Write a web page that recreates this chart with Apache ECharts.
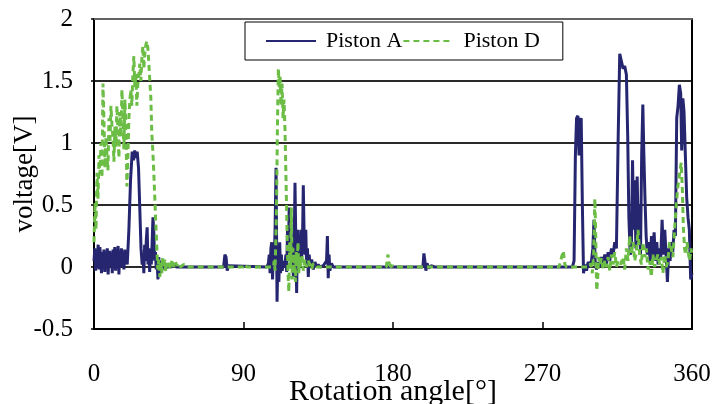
<!DOCTYPE html>
<html><head><meta charset="utf-8">
<script src="https://cdn.jsdelivr.net/npm/echarts@6/dist/echarts.min.js"></script>
<style>html,body{margin:0;padding:0;background:#fff}#c{width:713px;height:404px}</style>
</head><body><div id="c"></div>
<script>
const xTicks = [0, 90, 180, 270, 360];
const yTicks = [-0.5, 0, 0.5, 1, 1.5, 2];

const pistonA_angle = [0,0.5,1,1.5,2,2.5,3,3.5,4,4.5,5,5.5,6,6.5,7,7.5,8,8.5,9,9.5,10,10.5,11,11.5,12,12.5,13,13.5,14,14.5,15,15.5,16,16.5,17,17.5,18,18.5,19,19.5,20,21,22,23,23.8,24.5,25.3,26,26.8,27.5,28.3,29,29.5,30,30.5,31,31.5,32,32.5,33,33.5,34,34.5,35,35.5,36,36.5,37,37.5,38,38.5,39,39.5,40,40.5,41,42,43,44,45,46,48,50,78,78.8,79.5,80.2,81,82,104,105,105.5,106,106.5,107,107.5,108,108.5,109,109.6,110.2,110.8,111.3,111.8,112.3,112.8,113.3,114,115,115.5,116,116.5,117,117.5,118,118.5,119,119.5,120,120.5,121,121.5,122,122.5,123,123.5,124,124.5,125,125.5,126,126.5,127,127.5,128,128.5,129,129.5,130,131,132,133,134,135,136,138,139,140,140.5,141,141.5,142,143,144,150,198,198.6,199.2,199.8,200.5,201.5,203,205,288,289,289.8,290.5,291.3,292,292.6,293.3,294,294.7,295.5,296.5,297.5,298.5,299.5,300.3,301,301.7,302.5,303.5,304.5,305.5,306.5,307.5,308.5,309.5,310.5,311.5,312.5,313.5,314.5,315.5,316.5,317.5,318.5,319.5,320.5,321.3,322,322.8,323.5,324.2,324.9,325.5,326.2,327,327.7,328.3,329,329.7,330.4,331,331.7,332.4,333.1,334,334.8,335.6,336.4,337.2,338,338.8,339.6,340.4,341.2,342,342.8,343.6,344.4,345.2,346,346.8,347.6,348.4,349.2,350,350.8,351.6,352.4,353.2,353.8,354.5,355.2,356,356.8,357.6,358.4,359.2,360];
const pistonA_volt = [0.05,0.15,-0.03,0.12,0.02,0.18,-0.02,0.16,0.08,-0.05,0.12,0.03,0.14,-0.04,0.1,0.02,0.15,-0.06,0.09,0.13,0.0,0.11,-0.05,0.14,0.04,0.16,-0.03,0.1,0.05,0.17,-0.06,0.12,0.02,0.15,0.0,0.12,-0.02,0.14,0.03,0.1,0.02,0.3,0.7,0.93,0.86,0.94,0.88,0.93,0.8,0.5,0.15,0.02,0.1,-0.05,0.18,0.05,0.22,0.32,0.02,0.15,-0.04,0.12,0.02,0.2,0.4,0.28,0.05,0.12,-0.02,0.05,-0.1,0.08,-0.06,0.04,-0.04,0.05,-0.02,0.03,-0.01,0.02,0,0.01,0,0,0.1,0.08,-0.03,0.01,0,0,0.03,0.1,-0.05,0.15,0.2,-0.1,0.18,0.05,0.3,0.8,-0.28,0.15,-0.12,0.2,-0.05,0.1,-0.03,0.05,0.0,0.1,-0.04,0.3,0.05,0.48,0.1,0.35,0.02,0.25,-0.08,0.15,0.68,0.2,-0.21,0.3,0.1,0.25,0.05,0.3,0.08,0.2,0.66,0.25,0.1,0.3,0.0,0.15,-0.08,0.1,0.03,0.06,-0.02,0.04,0.0,0.02,0.0,0.01,0.0,0.05,0.25,-0.09,0.1,-0.03,0.03,0,0,0,0.11,0.05,-0.03,0.03,-0.01,0.01,0,0,0.05,0.9,1.2,1.22,0.9,1.18,1.2,0.5,-0.05,0.02,-0.03,0.04,0.02,0.05,0.15,0.38,0.05,-0.02,0.04,0.0,0.08,0.03,0.1,0.02,0.12,0.05,0.15,0.1,0.2,0.15,1.0,1.72,1.73,1.6,1.62,1.55,1.05,0.4,0.1,0.15,0.86,0.3,0.7,0.15,0.73,0.2,0.5,0.1,0.9,1.31,0.92,0.55,0.25,0.1,0.2,0.05,0.25,0.08,0.28,0.05,0.2,0.02,0.15,0.08,0.38,0.1,0.3,0.1,-0.12,0.15,0.05,0.2,0.12,0.3,0.25,1.2,1.3,1.47,1.4,0.94,1.36,1.25,0.9,0.56,0.4,0.3,-0.1,-0.05];

const pistonD_angle = [0,0.6,1.2,1.8,2.4,3,3.6,4.2,4.8,5.4,6,6.6,7.2,7.8,8.4,9,9.6,10.2,10.8,11.4,12,12.6,13.2,13.8,14.4,15,15.6,16.2,16.8,17.4,18,18.6,19.2,19.8,20.4,21,21.6,22.2,22.8,23.4,24,24.6,25.2,25.8,26.4,27,27.6,28.2,28.8,29.4,30,30.6,31.2,31.8,32.4,33,33.6,34.2,34.8,35.4,36,36.6,37.2,37.8,38.4,39,39.6,40.2,40.8,41.4,42,42.6,43.2,43.8,44.4,45,46,47,48,49,50,51,52,54,56,90,91,92,108,108.5,109,109.8,110.5,111,111.5,112,112.6,113.2,113.8,114.4,115,115.6,116.2,116.8,117.3,117.8,118.3,118.8,119.3,119.8,120.3,120.8,121.3,121.8,122.3,122.8,123.3,123.8,124.5,125.2,126,127,128,129,130,131,132,134,176,176.5,177,177.5,178,178.5,180,182,280,281.5,282.5,283.5,284.5,298,299,300,300.8,301.5,302,302.6,303.2,303.8,304.5,305.5,306.5,307.5,308.5,309.5,310.5,311.5,312.5,313.5,314.5,315.5,317,318.5,319.5,320.5,321.5,322.5,323.5,324.5,325.5,326.5,327.5,328.5,329.5,330.5,331.5,332.5,333.5,334.5,335.5,336.5,337.5,338.5,339.5,340.5,341.5,342.5,343.5,344.5,345.5,346.5,347.5,348.5,349.5,350.5,351.5,352.5,353.5,354.2,354.8,355.5,356.2,357,357.8,358.6,359.4,360];
const pistonD_volt = [0.2,0.52,0.3,0.76,0.55,0.9,0.75,1.0,0.72,1.48,1.18,0.8,1.05,0.9,0.78,1.2,1.0,1.3,1.15,1.05,0.85,1.13,0.97,1.3,1.1,0.88,1.25,1.05,1.43,1.21,0.95,1.35,1.15,0.65,0.89,1.2,1.35,1.43,1.3,1.55,1.7,1.45,1.56,1.3,1.48,1.55,1.64,1.5,1.68,1.78,1.6,1.72,1.79,1.82,1.77,1.65,1.5,1.37,1.08,0.94,0.76,0.56,0.35,0.16,-0.02,0.06,-0.08,0.05,-0.05,0.08,0.0,0.06,-0.04,0.05,0.0,0.04,-0.02,0.06,0.0,0.04,0.01,0.03,0.0,0.02,0,0,0.02,0,0,0.05,-0.03,0.4,1.2,1.6,1.45,1.55,1.3,1.48,1.2,1.35,1.1,0.7,0.3,-0.05,-0.2,0.2,0.0,0.48,-0.1,0.15,-0.05,0.1,-0.12,0.12,0.02,0.2,-0.05,0.08,0.0,0.1,-0.03,0.06,0.0,0.05,0.02,-0.02,0.03,0,0,0.06,0.1,0.02,0.05,0,0.01,0,0,0.08,0.13,0.02,0.0,0,0.03,-0.05,0.1,0.55,0.3,-0.19,-0.1,0.08,0.02,0.07,-0.02,0.05,0.0,0.08,-0.03,0.1,0.02,0.12,0.0,0.05,0.02,0.08,-0.02,0.15,0.05,0.25,0.1,0.2,0.05,0.12,0.3,0.1,0.02,0.2,0.08,0.15,-0.02,0.05,-0.08,0.1,0.0,0.06,0.1,0.02,0.08,-0.05,0.1,0.0,0.05,0.2,0.15,0.08,0.3,0.5,0.65,0.75,0.84,0.62,0.32,0.15,0.1,0.2,0.11,0.05,0.15,0.1];

const seriesNames = ['Piston A', 'Piston D'];
const colors = ['#25266f', '#6cbd45'];

function pairs(a, v) { return a.map((x, i) => [x, v[i]]); }

const chart = echarts.init(document.getElementById('c'), null, {renderer: 'canvas'});
const serif = '"Liberation Serif", "DejaVu Serif", serif';
chart.setOption({
  animation: false,
  backgroundColor: '#fff',
  grid: {left: 94, right: 21, top: 19, bottom: 75, containLabel: false, outerBoundsMode: 'none'},
  legend: {
    left: 245, top: 22,
    padding: [8, 23, 8, 20],
    borderColor: '#000', borderWidth: 1, backgroundColor: '#fff',
    itemWidth: 50, itemHeight: 14, itemGap: 0,
    itemStyle: {opacity: 0},
    textStyle: {fontFamily: serif, fontSize: 22, color: '#000', padding: [0, 0, 0, 5]},
    data: seriesNames
  },
  xAxis: [{
    type: 'value', min: 0, max: 360, interval: 90,
    name: 'Rotation angle[°]', nameLocation: 'middle', nameGap: 48, nameMoveOverlap: false,
    nameTextStyle: {fontFamily: serif, fontSize: 30, color: '#000'},
    axisLine: {show: true, onZero: false, lineStyle: {color: '#000', width: 2}},
    axisTick: {show: true, inside: true, length: 7, lineStyle: {color: '#000', width: 1.5}},
    axisLabel: {fontFamily: serif, fontSize: 25, color: '#000', margin: 33,
      formatter: v => xTicks.includes(v) ? String(v) : ''},
    splitLine: {show: false}
  }, {
    type: 'value', position: 'top', min: 0, max: 360, interval: 90,
    axisLine: {show: true, onZero: false, lineStyle: {color: '#777', width: 1.5}},
    axisTick: {show: false}, axisLabel: {show: false}, splitLine: {show: false}
  }],
  yAxis: [{
    type: 'value', min: -0.5, max: 2, interval: 0.5,
    name: 'voltage[V]', nameLocation: 'middle', nameGap: 56, nameRotate: 90, nameMoveOverlap: false,
    nameTextStyle: {fontFamily: serif, fontSize: 27, color: '#000'},
    axisLine: {show: true, onZero: false, lineStyle: {color: '#000', width: 2}},
    axisTick: {show: true, length: 3, lineStyle: {color: '#000', width: 1.5}},
    axisLabel: {fontFamily: serif, fontSize: 25, color: '#000', margin: 21,
      formatter: v => yTicks.includes(v) ? String(v) : ''},
    splitLine: {show: true, lineStyle: {color: '#2a2a2a', width: 2}}
  }, {
    type: 'value', position: 'right', min: -0.5, max: 2, interval: 0.5,
    axisLine: {show: true, onZero: false, lineStyle: {color: '#000', width: 2}},
    axisTick: {show: false}, axisLabel: {show: false}, splitLine: {show: false}
  }],
  series: [{
    name: seriesNames[0], type: 'line', data: pairs(pistonA_angle, pistonA_volt),
    symbol: 'none', showSymbol: false, clip: true,
    color: colors[0],
    lineStyle: {color: colors[0], width: 3}
  }, {
    name: seriesNames[1], type: 'line', data: pairs(pistonD_angle, pistonD_volt),
    symbol: 'none', showSymbol: false, clip: true,
    color: colors[1],
    lineStyle: {color: colors[1], width: 3, type: [6, 4]}
  }]
});
</script></body></html>
